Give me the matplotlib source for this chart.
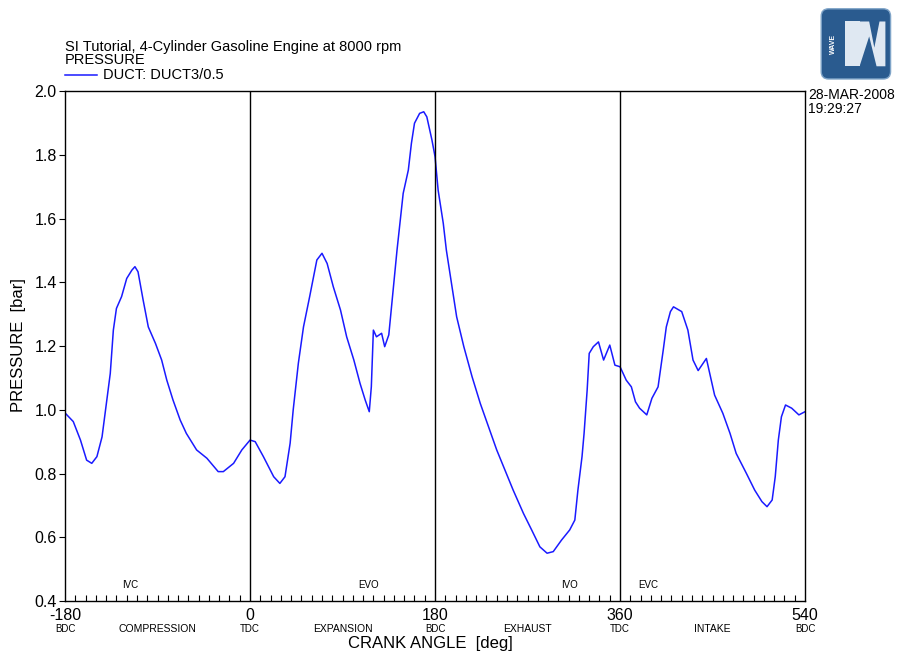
import matplotlib.pyplot as plt
from matplotlib.patches import FancyBboxPatch, Polygon
import numpy as np

plt.rcParams['font.family'] = ['Liberation Sans', 'DejaVu Sans']
plt.rcParams['axes.unicode_minus'] = False

# crank angle [deg] and duct pressure [bar]
crank = [-180, -172, -165, -159, -154, -149, -144, -139, -136, -133, -130, -125,
         -120, -115, -112, -109, -104, -99, -92, -86, -81, -75, -68, -62, -52,
         -42, -31, -26, -16, -8, 0, 5, 13, 23, 29, 34, 39, 42, 47, 52, 58, 65,
         70, 75, 81, 88, 94, 101, 107, 112, 116, 118, 120, 123, 128, 131, 135,
         138, 143, 149, 154, 157, 160, 165, 169, 172, 177, 180, 183, 188, 191,
         196, 201, 208, 216, 224, 232, 240, 248, 256, 266, 274, 282, 289, 295,
         303, 311, 316, 319, 323, 325, 328, 330, 334, 339, 344, 350, 355, 360,
         366, 371, 375, 379, 386, 391, 397, 402, 405, 409, 412, 420, 426, 431,
         436, 444, 448, 452, 460, 467, 473, 483, 491, 498, 503, 508, 511, 514,
         517, 521, 527, 534, 540]
pressure = [0.99, 0.963, 0.905, 0.842, 0.832, 0.853, 0.915, 1.041, 1.114, 1.25,
            1.318, 1.355, 1.412, 1.438, 1.449, 1.433, 1.344, 1.26, 1.208, 1.156,
            1.093, 1.031, 0.968, 0.926, 0.874, 0.848, 0.806, 0.806, 0.832, 0.874,
            0.905, 0.9, 0.853, 0.79, 0.769, 0.79, 0.895, 1.0, 1.146, 1.26, 1.355,
            1.47, 1.491, 1.459, 1.386, 1.313, 1.229, 1.156, 1.083, 1.031, 0.994,
            1.072, 1.25, 1.229, 1.24, 1.198, 1.235, 1.334, 1.501, 1.679, 1.752,
            1.836, 1.899, 1.93, 1.935, 1.919, 1.846, 1.794, 1.689, 1.585, 1.501,
            1.397, 1.292, 1.198, 1.104, 1.02, 0.947, 0.874, 0.811, 0.748, 0.675,
            0.623, 0.57, 0.55, 0.555, 0.591, 0.623, 0.654, 0.748, 0.853, 0.926,
            1.062, 1.177, 1.198, 1.213, 1.156, 1.203, 1.14, 1.135, 1.093, 1.072,
            1.025, 1.005, 0.984, 1.036, 1.072, 1.187, 1.26, 1.308, 1.323, 1.308,
            1.25, 1.156, 1.123, 1.161, 1.104, 1.046, 0.989, 0.926, 0.863, 0.8,
            0.748, 0.712, 0.696, 0.717, 0.79, 0.905, 0.978, 1.015, 1.005, 0.984,
            0.994]

dead_centres = [-180, 0, 180, 360, 540]
dc_names = ['BDC', 'TDC', 'BDC', 'TDC', 'BDC']
strokes = ['COMPRESSION', 'EXPANSION', 'EXHAUST', 'INTAKE']
stroke_pos = [-90, 90, 270, 450]
events = ['IVC', 'EVO', 'IVO', 'EVC']
event_pos = [-117, 115, 311, 387]

fig = plt.figure(figsize=(9.11, 6.55), dpi=100)
ax = fig.add_axes([0.0714, 0.0824, 0.8123, 0.7786])

ax.plot(crank, pressure, color='#1a1aff', linewidth=1.1)
for x in dead_centres[1:-1]:
    ax.axvline(x, color='black', linewidth=1.0)

ax.set_xlim(-180, 540)
ax.set_ylim(0.4, 2.0)
ax.set_xticks(dead_centres)
ax.set_xticks(np.arange(-180, 541, 10), minor=True)
ax.set_yticks(np.arange(0.4, 2.01, 0.2))
ax.set_yticklabels([f'{v:.1f}' for v in np.arange(0.4, 2.01, 0.2)])
ax.tick_params(axis='x', which='major', direction='in', length=0, labelsize=11.5, pad=5)
ax.tick_params(axis='x', which='minor', direction='in', length=4, width=0.8)
ax.tick_params(axis='y', direction='out', length=4, labelsize=11.5, pad=2)
for s in ax.spines.values():
    s.set_linewidth(1.0)

for x, n in zip(dead_centres, dc_names):
    ax.text(x, -0.055, n, transform=ax.get_xaxis_transform(), ha='center',
            va='center', fontsize=7)
for x, n in zip(stroke_pos, strokes):
    ax.text(x, -0.055, n, transform=ax.get_xaxis_transform(), ha='center',
            va='center', fontsize=7.5)
for x, n in zip(event_pos, events):
    ax.text(x, 0.45, n, ha='center', va='center', fontsize=7)

fig.text(0.472, 0.017, 'CRANK ANGLE  [deg]', ha='center', va='center', fontsize=12)
fig.text(0.02, 0.473, 'PRESSURE  [bar]', rotation=90, ha='center', va='center', fontsize=12)

fig.text(0.0714, 0.928, 'SI Tutorial, 4-Cylinder Gasoline Engine at 8000 rpm',
         fontsize=10.5, va='center')
fig.text(0.0714, 0.908, 'PRESSURE', fontsize=10.5, va='center')
fig.lines.append(plt.Line2D([0.0714, 0.106], [0.886, 0.886], color='#1a1aff',
                            linewidth=1.1, transform=fig.transFigure))
fig.text(0.113, 0.886, 'DUCT: DUCT3/0.5', fontsize=10.5, va='center')

fig.text(0.887, 0.855, '28-MAR-2008', fontsize=10, va='center')
fig.text(0.887, 0.834, '19:29:27', fontsize=10, va='center')

# logo
logo = fig.add_axes([0.899, 0.876, 0.081, 0.114])
logo.set_xlim(0, 1)
logo.set_ylim(0, 1)
logo.axis('off')
logo.add_patch(FancyBboxPatch((0.03, 0.03), 0.94, 0.94,
                              boxstyle='round,pad=0,rounding_size=0.1',
                              facecolor='#2a5b8f', edgecolor='#7fa4c8'))
logo.add_patch(Polygon([(0.35, 0.2), (0.35, 0.8), (0.55, 0.8), (0.55, 0.2)],
                       closed=True, facecolor='#dfe8f2', edgecolor='none'))
logo.add_patch(Polygon([(0.55, 0.8), (0.68, 0.8), (0.75, 0.45), (0.82, 0.8),
                        (0.9, 0.8), (0.9, 0.2), (0.78, 0.2), (0.68, 0.6), (0.55, 0.2)],
                       closed=True, facecolor='#dfe8f2', edgecolor='none'))
logo.text(0.2, 0.5, 'WAVE', rotation=90, color='white', fontsize=5,
          ha='center', va='center', fontweight='bold')

fig.savefig('out.png', dpi=100)
